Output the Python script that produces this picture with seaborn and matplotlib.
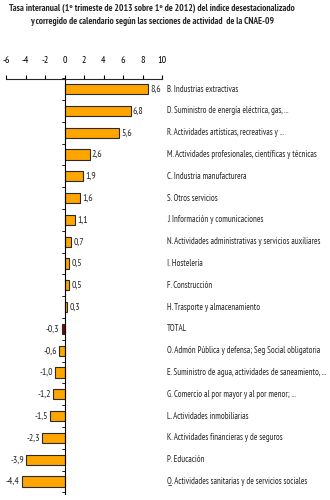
import matplotlib
matplotlib.use("Agg")
import matplotlib.pyplot as plt
import matplotlib.transforms as mtransforms
import seaborn as sns
import pandas as pd

categories = [
    "B. Industrias extractivas",
    "D. Suministro de energía eléctrica, gas, ...",
    "R. Actividades artísticas, recreativas y ...",
    "M. Actividades profesionales, científicas y técnicas",
    "C. Industria manufacturera",
    "S. Otros servicios",
    "J. Información y comunicaciones",
    "N. Actividades administrativas y servicios auxiliares",
    "I. Hostelería",
    "F. Construcción",
    "H. Trasporte y almacenamiento",
    "TOTAL",
    "O. Admón Pública y defensa; Seg Social obligatoria",
    "E. Suministro de agua, actividades de saneamiento, ...",
    "G. Comercio al por mayor y al por menor; ...",
    "L. Actividades inmobiliarias",
    "K. Actividades financieras y de seguros",
    "P. Educación",
    "Q. Actividades sanitarias y de servicios sociales",
]
values = [8.6, 6.8, 5.6, 2.6, 1.9, 1.6, 1.1, 0.7, 0.5, 0.5, 0.3, -0.3,
          -0.6, -1.0, -1.2, -1.5, -2.3, -3.9, -4.4]
x_ticks = [-6, -4, -2, 0, 2, 4, 6, 8, 10]
title = ("Tasa interanual (1º trimeste de 2013 sobre 1º de 2012) del índice desestacionalizado\n"
         "y corregido de calendario según las secciones de actividad  de la CNAE-09")

sns.set_style("white")
plt.rcParams["font.family"] = ["PT Sans Narrow", "DejaVu Sans"]

df = pd.DataFrame({"cat": categories, "val": values})
pal = {c: ("#8B0000" if c == "TOTAL" else "#FFA500") for c in categories}

fig = plt.figure(figsize=(3.3, 5.0), dpi=100)
ax = fig.add_axes([6/330, 1 - 495/500, 156/330, (495 - 79)/500])
sns.barplot(data=df, x="val", y="cat", hue="cat", palette=pal, legend=False,
            orient="h", width=0.47, edgecolor="#2a2a2a", linewidth=0.8, ax=ax, saturation=1)

ax.set_xlim(-6, 10)
ax.set_ylim(18.62, -0.46)
ax.set_xticks(x_ticks)
ax.set_xticklabels([str(t) for t in x_ticks], fontsize=7.2)
ax.xaxis.tick_top()
ax.tick_params(axis="x", direction="out", length=3, width=0.8, pad=7, colors="black")
ax.set_yticks([])
ax.set_xlabel("")
ax.set_ylabel("")
for s in ["right", "bottom", "left"]:
    ax.spines[s].set_visible(False)
ax.spines["top"].set_linewidth(0.8)
ax.axvline(0, color="black", linewidth=0.8)
for i in range(-1, len(categories)):
    ax.plot([-0.25, 0], [i + 0.5, i + 0.5], color="black", linewidth=0.6, clip_on=False)

trans = mtransforms.blended_transform_factory(ax.transAxes, ax.transData)
for i, (c, v) in enumerate(zip(categories, values)):
    lab = f"{v:.1f}".replace(".", ",")
    if v >= 0:
        ax.annotate(lab, (v, i), xytext=(1.5, 0), textcoords="offset points",
                    ha="left", va="center", fontsize=7)
    else:
        ax.annotate(lab, (v, i), xytext=(-1.5, 0), textcoords="offset points",
                    ha="right", va="center", fontsize=7)
    ax.text(1.032, i, c, transform=trans, ha="left", va="center", fontsize=6.3, clip_on=False)

fig.text(152/330, 0.993, title, ha="center", va="top", fontsize=6.75, fontweight="bold",
         linespacing=1.65)
fig.savefig("out.png", dpi=100)
